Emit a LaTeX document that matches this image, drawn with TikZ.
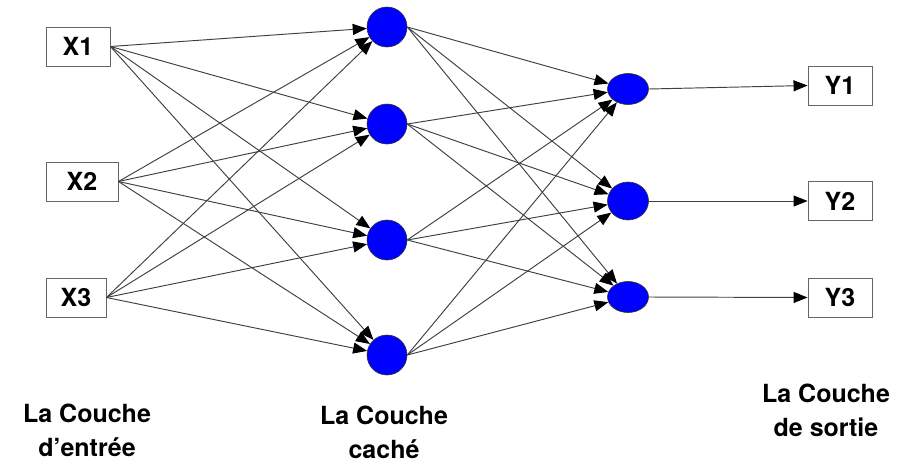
\documentclass[tikz,border=0pt]{standalone}
\usepackage{fontspec}
\setmainfont{TeX Gyre Heros}
\usetikzlibrary{arrows.meta,shapes.geometric}
\begin{document}
\begin{tikzpicture}[x=1pt,y=-1pt,
  inbox/.style={draw=black!60, fill=white, line width=0.9pt, minimum height=39pt, inner sep=0pt, font=\fontsize{25}{30}\selectfont\bfseries},
  neuron/.style={circle, draw=black!80, fill=blue, minimum size=40pt, inner sep=0pt, line width=0.6pt},
  outn/.style={ellipse, draw=black!80, fill=blue, minimum width=41pt, inner sep=0pt, line width=0.6pt},
  conn/.style={draw=black!75, line width=0.95pt, -{Triangle[length=14pt,width=11pt,color=black]}},
  lbl/.style={align=center, font=\fontsize{25}{34}\selectfont\bfseries}]
\useasboundingbox (0,0) rectangle (902,464);
% input boxes
\node[inbox, minimum width=64pt] (x1) at (78,46.5) {X1};
\node[inbox, minimum width=72pt] (x2) at (82,181.5) {X2};
\node[inbox, minimum width=60pt] (x3) at (76,297.5) {X3};
% hidden
\node[neuron] (h1) at (387,27) {};
\node[neuron] (h2) at (387,124) {};
\node[neuron] (h3) at (387,240) {};
\node[neuron] (h4) at (387,355) {};
% output neurons
\node[outn, minimum height=31pt] (o1) at (628,89) {};
\node[outn, minimum height=38pt] (o2) at (628,201) {};
\node[outn, minimum height=31pt] (o3) at (628,297) {};
% output boxes
\node[inbox, minimum width=64pt] (y1) at (840,85.5) {Y1};
\node[inbox, minimum width=64pt] (y2) at (840,201) {Y2};
\node[inbox, minimum width=64pt] (y3) at (840,297.5) {Y3};
% connections
\foreach \i in {1,2,3}{
  \foreach \j in {1,2,3,4}{
    \draw[conn] (x\i.east) -- (h\j);
  }
}
\foreach \j in {1,2,3,4}{
  \foreach \k in {1,2,3}{
    \draw[conn] (h\j.east) -- (o\k);
  }
}
\foreach \k in {1,2,3}{
  \draw[conn] (o\k.east) -- (y\k.west);
}
% labels
\node[lbl] (l1) at (87,430) {La Couche\\d’entrée};
\node[lbl] (l2) at (384,432) {La Couche\\caché};
\node[lbl] (l3) at (826,410) {La Couche\\de sortie};
\end{tikzpicture}
\end{document}
